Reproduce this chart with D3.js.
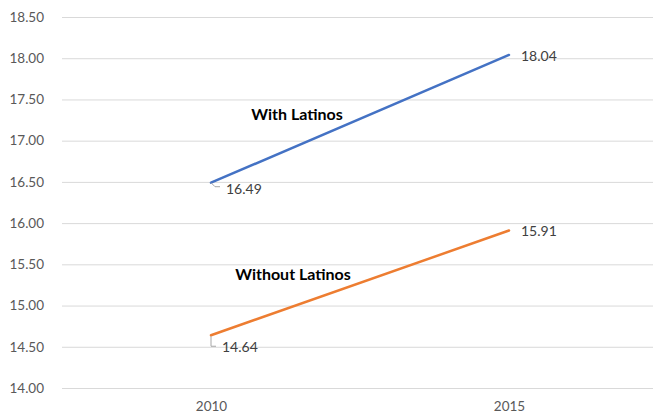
<!DOCTYPE html>
<html>
<head>
<meta charset="utf-8">
<script src="https://cdn.jsdelivr.net/npm/d3@7"></script>
<style>
  html, body { margin: 0; padding: 0; background: #fff; }
  svg { display: block; }
  text { font-family: Lato, "Open Sans", sans-serif; }
</style>
</head>
<body>
<svg id="chart" width="653" height="418"></svg>
<script>
// Average values by year
const years = ["2010", "2015"];
const withLatinos = [16.49, 18.04];
const withoutLatinos = [14.64, 15.91];
const seriesNames = ["With Latinos", "Without Latinos"];
const yTicks = [14.0, 14.5, 15.0, 15.5, 16.0, 16.5, 17.0, 17.5, 18.0, 18.5];

const svg = d3.select("#chart");
const plot = { left: 62, right: 658, top: 17, bottom: 388 };

const x = d3.scalePoint().domain(years).range([plot.left, plot.right]).padding(0.5);
const y = d3.scaleLinear().domain([14, 18.5]).range([plot.bottom, plot.top]);

// Horizontal gridlines
svg.append("g")
  .selectAll("line")
  .data(yTicks)
  .join("line")
  .attr("x1", plot.left).attr("x2", plot.right)
  .attr("y1", d => y(d) + 0.5).attr("y2", d => y(d) + 0.5)
  .attr("stroke", "#d9d9d9").attr("stroke-width", 1);

// Y axis labels
const yAxis = d3.axisLeft(y).tickValues(yTicks).tickFormat(d3.format(".2f")).tickSize(0).tickPadding(0);
const gy = svg.append("g").attr("transform", `translate(44,0)`).call(yAxis);
gy.select(".domain").remove();
gy.selectAll("text").attr("fill", "#595959").style("font-size", "13.5px")
  .style("font-family", "Lato, 'Open Sans', sans-serif");

// X axis labels
const xAxis = d3.axisBottom(x).tickSize(0).tickPadding(0);
const gx = svg.append("g").attr("transform", `translate(0,401)`).call(xAxis);
gx.select(".domain").remove();
gx.selectAll("text").attr("fill", "#595959").style("font-size", "13.5px")
  .style("font-family", "Lato, 'Open Sans', sans-serif");

const line = d3.line().x((d, i) => x(years[i])).y(d => y(d));

const series = [
  { name: seriesNames[0], values: withLatinos, color: "#4472c4" },
  { name: seriesNames[1], values: withoutLatinos, color: "#ed7d31" }
];

series.forEach(s => {
  svg.append("path")
    .datum(s.values)
    .attr("d", line)
    .attr("fill", "none")
    .attr("stroke", s.color)
    .attr("stroke-width", 2.5)
    .attr("stroke-linecap", "round");
});

const fmt = d3.format(".2f");

// Labels at the 2015 end points
series.forEach(s => {
  svg.append("text")
    .attr("x", x(years[1]) + 12)
    .attr("y", y(s.values[1]) + 1)
    .attr("dy", "0.35em")
    .attr("fill", "#404040")
    .style("font-size", "14px")
    .text(fmt(s.values[1]));
});

// Labels at the 2010 start points, with leader lines
const g0 = svg.append("g");
// With Latinos
{
  const px = x(years[0]), py = y(withLatinos[0]);
  g0.append("path")
    .attr("d", `M${px},${py} L${px + 4},${py + 4} L${px + 9},${py + 4}`)
    .attr("fill", "none").attr("stroke", "#a6a6a6").attr("stroke-width", 1);
  g0.append("text")
    .attr("x", px + 15).attr("y", py + 6).attr("dy", "0.35em")
    .attr("fill", "#404040").style("font-size", "14px")
    .text(fmt(withLatinos[0]));
}
// Without Latinos
{
  const px = x(years[0]), py = y(withoutLatinos[0]);
  g0.append("path")
    .attr("d", `M${px},${py + 1} L${px},${py + 11} L${px + 5},${py + 11}`)
    .attr("fill", "none").attr("stroke", "#a6a6a6").attr("stroke-width", 1);
  g0.append("text")
    .attr("x", px + 11).attr("y", py + 12).attr("dy", "0.35em")
    .attr("fill", "#404040").style("font-size", "14px")
    .text(fmt(withoutLatinos[0]));
}

// Series name annotations
const nameLabels = [
  { text: seriesNames[0], cx: 297, cy: 114 },
  { text: seriesNames[1], cx: 293, cy: 274 }
];
svg.append("g")
  .selectAll("text")
  .data(nameLabels)
  .join("text")
  .attr("x", d => d.cx).attr("y", d => d.cy)
  .attr("text-anchor", "middle").attr("dy", "0.35em")
  .attr("fill", "#000").style("font-size", "16px").style("font-weight", "bold")
  .text(d => d.text);
</script>
</body>
</html>
